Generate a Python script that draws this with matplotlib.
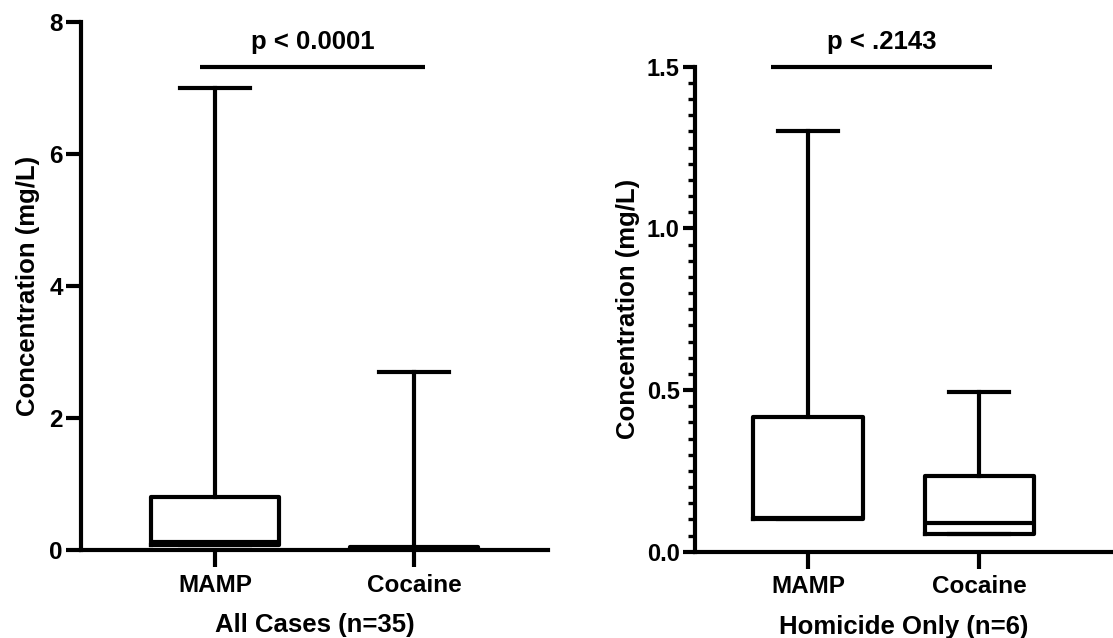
import matplotlib
matplotlib.use("Agg")
import matplotlib.pyplot as plt
from matplotlib.ticker import MultipleLocator

plt.rcParams['font.family'] = ['Liberation Sans', 'DejaVu Sans']
plt.rcParams['font.weight'] = 'bold'

categories = ["MAMP", "Cocaine"]

# Panel A: All Cases (n=35)
a_whislo = [0.08, 0.0]
a_q1 = [0.08, 0.0]
a_med = [0.12, 0.02]
a_q3 = [0.81, 0.05]
a_whishi = [7.0, 2.70]
a_p_text = "p < 0.0001"
a_xlabel = "All Cases (n=35)"
a_yticks = [0, 2, 4, 6, 8]

# Panel B: Homicide Only (n=6)
b_whislo = [0.10, 0.055]
b_q1 = [0.10, 0.055]
b_med = [0.105, 0.09]
b_q3 = [0.418, 0.234]
b_whishi = [1.30, 0.495]
b_p_text = "p < .2143"
b_xlabel = "Homicide Only (n=6)"
b_yticks = [0.0, 0.5, 1.0, 1.5]

ylabel = "Concentration (mg/L)"

W, H = 1113, 638
fig = plt.figure(figsize=(W / 100, H / 100), dpi=100)

LW = 3.0


def px_axes(x0, x1, ytop, ybot):
    return fig.add_axes([x0 / W, (H - ybot) / H, (x1 - x0) / W, (ybot - ytop) / H])


def draw(ax, whislo, q1, med, q3, whishi):
    stats = []
    for i, c in enumerate(categories):
        stats.append(dict(label=c, whislo=whislo[i], q1=q1[i], med=med[i],
                          q3=q3[i], whishi=whishi[i], fliers=[]))
    ax.bxp(stats, positions=[1, 2], widths=0.64, capwidths=0.35,
           showfliers=False, patch_artist=False,
           boxprops=dict(color='black', linewidth=LW),
           medianprops=dict(color='black', linewidth=LW),
           whiskerprops=dict(color='black', linewidth=LW),
           capprops=dict(color='black', linewidth=LW))
    for s in ['top', 'right']:
        ax.spines[s].set_visible(False)
    for s in ['left', 'bottom']:
        ax.spines[s].set_linewidth(LW)
    ax.set_xticks([1, 2])
    ax.set_xticklabels(categories, fontsize=17.5, fontweight='bold')
    ax.tick_params(axis='x', length=12, width=LW, pad=5)


# Left panel
ax1 = px_axes(81, 548, 22, 550)
draw(ax1, a_whislo, a_q1, a_med, a_q3, a_whishi)
ax1.set_xlim(0.327, 2.673)
ax1.set_ylim(0, 8)
ax1.set_yticks(a_yticks)
ax1.set_yticklabels([str(v) for v in a_yticks], fontsize=17.5, fontweight='bold')
ax1.tick_params(axis='y', length=11, width=LW, pad=2)
ax1.set_ylabel(ylabel, fontsize=18.5, fontweight='bold', labelpad=7)
ax1.set_xlabel(a_xlabel, fontsize=18.5, fontweight='bold', labelpad=12)
ax1.plot([0.925, 2.055], [7.32, 7.32], color='black', lw=LW, clip_on=False,
         solid_capstyle='butt')
ax1.text(1.49, 7.52, a_p_text, ha='center', va='bottom', fontsize=18.5,
         fontweight='bold')

# Right panel
ax2 = px_axes(695, 1113, 66.7, 551.7)
draw(ax2, b_whislo, b_q1, b_med, b_q3, b_whishi)
ax2.set_xlim(0.339, 2.78)
ax2.set_ylim(0, 1.5)
ax2.set_yticks(b_yticks)
ax2.set_yticklabels([f"{v:.1f}" for v in b_yticks], fontsize=17, fontweight='bold')
ax2.yaxis.set_minor_locator(MultipleLocator(0.05))
ax2.tick_params(axis='y', which='major', length=9, width=LW, pad=2)
ax2.tick_params(axis='y', which='minor', length=5, width=2.4)
ax2.set_ylabel(ylabel, fontsize=18.5, fontweight='bold', labelpad=5)
ax2.set_xlabel(b_xlabel, fontsize=18.5, fontweight='bold', labelpad=12)
ax2.plot([0.78, 2.076], [1.5, 1.5], color='black', lw=LW, clip_on=False,
         solid_capstyle='butt')
ax2.text(1.43, 1.54, b_p_text, ha='center', va='bottom', fontsize=18.5,
         fontweight='bold')

fig.savefig("out.png", dpi=100)
